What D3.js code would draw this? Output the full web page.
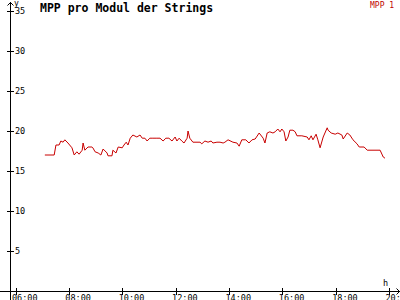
<!DOCTYPE html>
<html>
<head>
<meta charset="utf-8">
<script src="https://cdn.jsdelivr.net/npm/d3@7"></script>
<style>
  body { margin: 0; background: #fff; }
  svg { display: block; }
  text { font-family: "DejaVu Sans Mono", monospace; }
</style>
</head>
<body>
<svg width="400" height="300"></svg>
<script>
// times of the samples (HH:MM) and MPP values per module
const times = ["07:06","07:27","07:31","07:38","07:42","07:47","07:51","07:58","08:07","08:12",
  "08:18","08:23","08:30","08:32","08:36","08:43","08:52","08:54","08:59","09:06",
  "09:12","09:17","09:26","09:28","09:37","09:39","09:46","09:51","10:00","10:04",
  "10:09","10:13","10:18","10:24","10:33","10:40","10:45","10:51","10:56","11:02",
  "11:09","11:18","11:25","11:32","11:38","11:45","11:52","11:59","12:03","12:08",
  "12:14","12:19","12:26","12:28","12:32","12:39","12:55","12:59","13:06","13:13",
  "13:20","13:24","13:33","13:40","13:47","13:51","13:58","14:09","14:18","14:23",
  "14:29","14:38","14:45","14:52","14:59","15:08","15:17","15:21","15:26","15:32",
  "15:39","15:44","15:50","15:55","15:59","16:04","16:08","16:13","16:17","16:24",
  "16:29","16:33","16:44","16:56","17:00","17:05","17:09","17:16","17:20","17:25",
  "17:32","17:41","17:43","17:50","17:59","18:05","18:14","18:17","18:26","18:32",
  "18:39","18:48","18:53","19:04","19:11","19:40","19:47","19:51"];
const mpp1 = [17.0,17.0,18.25,18.25,18.75,18.6,18.9,18.5,17.9,17.0,
  17.4,17.1,17.6,18.5,17.6,18.0,18.0,17.9,17.4,17.25,
  17.0,17.75,17.25,16.9,16.9,17.6,17.25,18.0,17.9,18.25,
  18.6,18.25,19.1,19.5,19.25,19.5,19.1,19.1,18.75,19.1,
  19.1,19.1,19.1,18.75,19.1,19.1,18.75,19.25,18.75,19.1,
  18.75,18.5,19.1,20.0,19.1,18.6,18.6,18.4,18.75,18.6,
  18.75,18.5,18.6,18.6,18.5,18.6,18.9,18.6,18.5,18.1,
  18.9,18.9,18.5,18.9,19.0,19.75,19.1,18.5,19.75,19.9,
  19.75,19.9,20.25,19.9,20.25,19.9,18.75,19.25,20.1,20.1,
  19.9,19.4,19.4,19.25,18.9,19.4,18.9,19.6,18.9,17.9,
  19.25,20.4,20.1,19.75,19.6,19.75,19.5,19.0,19.75,19.5,
  18.9,18.4,18.0,18.0,17.6,17.6,16.75,16.6];
const yTicks = [5, 10, 15, 20, 25, 30, 35];
const xTicks = ["06:00","08:00","10:00","12:00","14:00","16:00","18:00","20:00"];
const title = "MPP pro Modul der Strings";
const seriesName = "MPP 1";

const svg = d3.select("svg");
const hours = function(s) { const p = s.split(":"); return +p[0] + p[1] / 60; };

const x = d3.scaleLinear().domain([6, 20]).range([15.5, 389]);
const y = d3.scaleLinear().domain([0, 35]).range([291, 11]);
const x0 = 10.5, y0 = 291.5;

svg.append("rect").attr("width", 400).attr("height", 300).attr("fill", "#fff");

const axes = svg.append("g").attr("stroke", "#000").attr("fill", "none")
    .attr("shape-rendering", "crispEdges");

// axis lines with arrows
axes.append("line").attr("x1", x0).attr("x2", x0).attr("y1", 2).attr("y2", 300);
axes.append("path").attr("d", "M7.5,5.5L10.5,2.5L13.5,5.5").attr("shape-rendering", "auto");
axes.append("line").attr("x1", 0).attr("x2", 400).attr("y1", y0).attr("y2", y0);
axes.append("path").attr("d", "M396.5,288.5L399.5,291.5L396.5,294.5").attr("shape-rendering", "auto");

// y ticks
axes.selectAll(".yt").data(yTicks).enter().append("line")
    .attr("x1", 7).attr("x2", 14)
    .attr("y1", function(d) { return Math.round(y(d)) + 0.5; })
    .attr("y2", function(d) { return Math.round(y(d)) + 0.5; });
svg.selectAll(".yl").data(yTicks).enter().append("text")
    .attr("x", 15).attr("y", function(d) { return y(d) + 3; })
    .attr("font-size", 8.5).text(function(d) { return d; });

// x ticks
axes.selectAll(".xt").data(xTicks).enter().append("line")
    .attr("x1", function(d) { return Math.round(x(hours(d))) + 0.5; })
    .attr("x2", function(d) { return Math.round(x(hours(d))) + 0.5; })
    .attr("y1", 288).attr("y2", 295);
svg.selectAll(".xl").data(xTicks).enter().append("text")
    .attr("x", function(d) { return x(hours(d)) - 3.5; }).attr("y", 301)
    .attr("font-size", 8.5).text(function(d) { return d; });

// axis captions
svg.append("text").attr("x", 14).attr("y", 6).attr("font-size", 8).text("y");
svg.append("text").attr("x", 383).attr("y", 286).attr("font-size", 8.5).text("h");

// title and legend
svg.append("text").attr("x", 40).attr("y", 12).attr("font-size", 11.5)
    .attr("font-weight", "bold").text(title);
svg.append("text").attr("x", 370).attr("y", 8).attr("font-size", 8)
    .attr("fill", "#c00000").text(seriesName);

// data line
const data = times.map(function(t, i) { return { h: hours(t), v: mpp1[i] }; });
svg.append("path").datum(data)
    .attr("fill", "none").attr("stroke", "#c80000").attr("stroke-width", 1)
    .attr("d", d3.line()
        .x(function(d) { return x(d.h); })
        .y(function(d) { return y(d.v); }));
</script>
</body>
</html>
